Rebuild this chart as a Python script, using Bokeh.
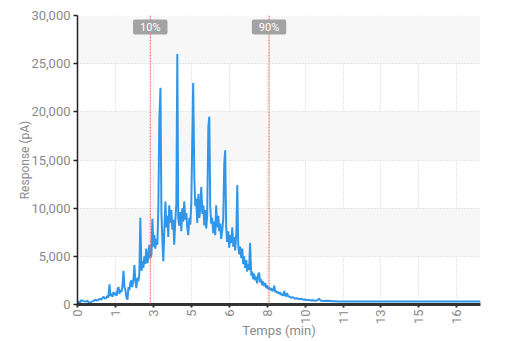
import math
from bokeh.plotting import figure
from bokeh.models import (FixedTicker, CustomJSTickFormatter, NumeralTickFormatter,
                          Span, Label, Range1d)
from bokeh.embed import file_html
from bokeh.resources import INLINE

# ---- data ----
time_min = [0.00, 0.04, 0.10, 0.17, 0.25, 0.34, 0.42, 0.51, 0.58, 0.67, 0.76, 0.84, 0.93, 1.01,
            1.09, 1.18, 1.26, 1.30, 1.35, 1.39, 1.43, 1.48, 1.52, 1.56, 1.60, 1.65, 1.69, 1.73,
            1.77, 1.81, 1.86, 1.90, 1.94, 1.98, 2.02, 2.07, 2.11, 2.15, 2.19, 2.23, 2.27, 2.31,
            2.36, 2.40, 2.44, 2.48, 2.53, 2.57, 2.61, 2.65, 2.70, 2.74, 2.78, 2.82, 2.86, 2.90,
            2.95, 2.99, 3.03, 3.07, 3.12, 3.16, 3.20, 3.24, 3.28, 3.33, 3.37, 3.41, 3.45, 3.50,
            3.54, 3.58, 3.62, 3.66, 3.71, 3.75, 3.79, 3.83, 3.87, 3.91, 3.96, 4.00, 4.04, 4.08,
            4.12, 4.17, 4.21, 4.25, 4.29, 4.34, 4.38, 4.42, 4.46, 4.50, 4.55, 4.59, 4.63, 4.67,
            4.72, 4.76, 4.80, 4.84, 4.88, 4.93, 4.97, 5.01, 5.05, 5.10, 5.14, 5.18, 5.22, 5.27,
            5.31, 5.35, 5.39, 5.43, 5.47, 5.52, 5.56, 5.60, 5.64, 5.68, 5.73, 5.77, 5.81, 5.85,
            5.89, 5.94, 5.98, 6.02, 6.06, 6.11, 6.15, 6.19, 6.23, 6.27, 6.31, 6.36, 6.40, 6.44,
            6.48, 6.53, 6.57, 6.61, 6.65, 6.70, 6.74, 6.78, 6.82, 6.86, 6.91, 6.95, 6.99, 7.03,
            7.07, 7.12, 7.16, 7.20, 7.24, 7.28, 7.33, 7.37, 7.41, 7.45, 7.50, 7.54, 7.58, 7.62,
            7.66, 7.71, 7.75, 7.79, 7.83, 7.88, 7.92, 7.96, 8.00, 8.04, 8.08, 8.13, 8.17, 8.21,
            8.26, 8.30, 8.34, 8.38, 8.43, 8.47, 8.51, 8.55, 8.59, 8.64, 8.68, 8.72, 8.76, 8.80,
            8.84, 8.89, 8.93, 9.01, 9.10, 9.18, 9.26, 9.35, 9.43, 9.52, 9.60, 9.68, 9.77, 9.85,
            9.94, 10.02, 10.10, 10.19, 10.27, 10.40, 10.55, 10.70, 10.85, 11.00, 11.12, 11.50,
            12.00, 13.00, 14.00, 15.00, 16.00, 17.00]

response_pa = [250, 300, 200, 450, 350, 300, 400, 50, 300, 350, 500, 400, 600, 500,
               800, 600, 900, 700, 2100, 900, 1100, 800, 1300, 1000, 1200, 900, 1600, 1800,
               1100, 1500, 1300, 2000, 3500, 1800, 1500, 700, 500, 1800, 1500, 2300, 2500, 1800,
               2600, 4100, 2500, 1700, 2800, 2400, 3200, 9000, 3500, 4500, 3800, 5000, 4200, 5800,
               4300, 5000, 6200, 4800, 5200, 8900, 6000, 7200, 5800, 6800, 6200, 10000, 19000, 22500,
               9500, 6800, 4500, 7500, 10700, 8000, 9200, 7000, 10300, 8500, 9800, 7800, 8800, 6200,
               8500, 10500, 26000, 9000, 8200, 9600, 7600, 10000, 8600, 10700, 8800, 9500, 8000, 7200,
               9000, 8300, 10500, 17000, 23000, 13000, 10200, 11000, 8500, 11500, 9000, 10000, 12200, 9400,
               10300, 8200, 9800, 7900, 9200, 18500, 19500, 10200, 8400, 9000, 7400, 8600, 7200, 10300,
               8000, 9200, 7600, 8400, 6800, 7800, 9000, 14600, 16000, 8200, 6500, 7600, 5900, 7200,
               6400, 8000, 6000, 7000, 5600, 7400, 12400, 6200, 5200, 6000, 4800, 5800, 4200, 5000,
               3800, 4600, 3400, 4200, 3600, 6400, 3000, 3400, 2600, 3200, 2500, 2900, 2200, 3100,
               3300, 2300, 2600, 2000, 2400, 1900, 2200, 1700, 2000, 1600, 1800, 1500, 1700, 1400,
               1500, 1950, 1300, 1400, 1200, 1300, 1100, 1250, 1000, 1100, 900, 1400, 950, 850,
               1200, 800, 850, 700, 750, 600, 650, 550, 600, 500, 520, 450, 480, 420,
               450, 400, 420, 600, 380, 360, 380, 340, 330, 310, 300, 300,
               300, 300, 300, 300, 300, 300]

tick_positions = [0, 1.6, 3.2, 4.8, 6.4, 8.0, 9.6, 11.2, 12.8, 14.4, 16.0]
tick_labels = ["0", "1", "3", "5", "6", "8", "10", "11", "13", "15", "16"]
y_ticks = [0, 5000, 10000, 15000, 20000, 25000, 30000]
x_title = "Temps (min)"
y_title = "Response (pA)"

marker_times = [3.07, 8.08]
marker_labels = ["10%", "90%"]

FONT = "Roboto"
GREY = "#8a8a8a"

p = figure(width=522, height=341, output_backend="svg", toolbar_location=None,
           x_range=Range1d(0, 17.0), y_range=Range1d(0, 30000),
           min_border_left=77, min_border_right=42, min_border_top=15, min_border_bottom=34)
p.outline_line_color = None
p.background_fill_color = "white"
p.border_fill_color = "white"

# grids
p.xgrid.ticker = FixedTicker(ticks=tick_positions)
p.ygrid.ticker = FixedTicker(ticks=y_ticks)
for g in (p.xgrid, p.ygrid):
    g.grid_line_color = "#cfcfcf"
    g.grid_line_dash = "1 2"
    g.grid_line_width = 1
p.ygrid.band_fill_color = "#f7f7f7"
p.ygrid.band_fill_alpha = 1.0

# x axis
xa = p.xaxis[0]
xa.ticker = FixedTicker(ticks=tick_positions)
xa.formatter = CustomJSTickFormatter(args=dict(labels=tick_labels), code="return labels[index];")
xa.major_label_orientation = math.pi / 2
xa.axis_line_color = "#333333"
xa.axis_line_width = 3
xa.major_tick_line_color = "#333333"
xa.major_tick_line_width = 2
xa.major_tick_out = 3
xa.major_tick_in = 0
xa.minor_tick_line_color = None
xa.major_label_standoff = 2
xa.major_label_text_font = FONT
xa.major_label_text_font_size = "13px"
xa.major_label_text_color = GREY
xa.axis_label = x_title
xa.axis_label_text_font = FONT
xa.axis_label_text_font_size = "13px"
xa.axis_label_text_font_style = "normal"
xa.axis_label_text_color = GREY
xa.axis_label_standoff = -4

# y axis
ya = p.yaxis[0]
ya.ticker = FixedTicker(ticks=y_ticks)
ya.formatter = NumeralTickFormatter(format="0,0")
ya.axis_line_color = "#222222"
ya.axis_line_width = 1.5
ya.major_tick_line_color = "#222222"
ya.major_tick_line_width = 1.5
ya.major_tick_out = 4
ya.major_tick_in = 0
ya.minor_tick_line_color = None
ya.major_label_standoff = 3
ya.major_label_text_font = FONT
ya.major_label_text_font_size = "13px"
ya.major_label_text_color = GREY
ya.axis_label = y_title
ya.axis_label_text_font = FONT
ya.axis_label_text_font_size = "12px"
ya.axis_label_text_font_style = "normal"
ya.axis_label_text_color = GREY
ya.axis_label_standoff = -4

# chromatogram
p.line(time_min, response_pa, line_color="#2f96ea", line_width=2)

# 10% / 90% markers
for t, lab in zip(marker_times, marker_labels):
    p.add_layout(Span(location=t, dimension="height", line_color="#ff5a5a",
                      line_dash="2 1", line_width=1))
    p.add_layout(Label(x=t, y=28800, text=lab, text_align="center", text_baseline="middle",
                       text_font=FONT, text_font_size="11px", text_color="white",
                       background_fill_color="#a3a3a3", background_fill_alpha=1.0,
                       border_radius=2, padding=dict(left=7, right=7, top=1, bottom=1)))

open("out.html", "w").write(file_html(p, INLINE))
